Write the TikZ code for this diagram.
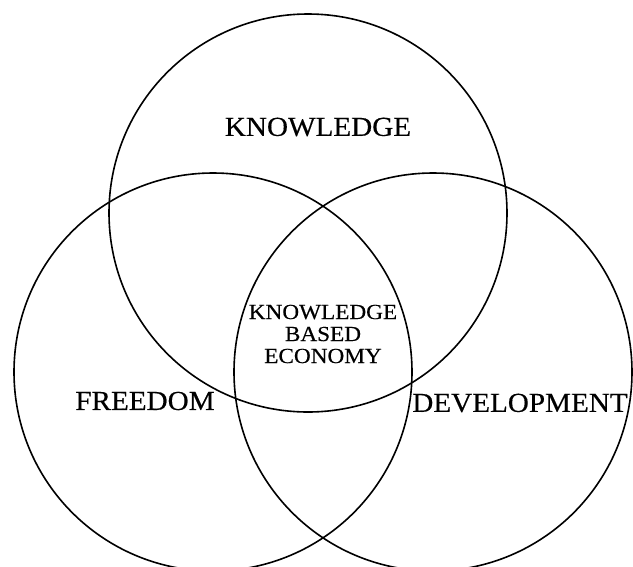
\documentclass[tikz,border=0pt]{standalone}
\usepackage{fontspec}
\setmainfont{Liberation Serif}
\newfontfamily\vennfont[FakeStretch=1.06,FakeBold=0.4]{Liberation Serif}
\newfontfamily\corefont[FakeStretch=1.08,FakeBold=0.4]{Liberation Serif}
\begin{document}
\begin{tikzpicture}[x=1pt,y=-1pt,
  ring/.style={circle, draw=black, line width=1.6pt, minimum size=398pt, inner sep=0pt},
  setlabel/.style={inner sep=0pt, font=\vennfont\fontsize{27.5}{30}\selectfont},
  corelabel/.style={inner sep=0pt, align=center, font=\corefont\fontsize{21.5}{22}\selectfont}]
  \useasboundingbox (0,0) rectangle (633,566);
  % the three overlapping sets
  \node[ring] (know) at (308,213) {};
  \node[ring] (free) at (213,372) {};
  \node[ring] (dev)  at (433,372) {};
  % set names
  \node[setlabel] (tknow) at (318,127) {KNOWLEDGE};
  \node[setlabel] (tfree) at (145,401) {FREEDOM};
  \node[setlabel] (tdev)  at (520,403) {DEVELOPMENT};
  % common intersection
  \node[corelabel] (core) at (323,334) {KNOWLEDGE\\BASED\\ECONOMY};
\end{tikzpicture}
\end{document}
